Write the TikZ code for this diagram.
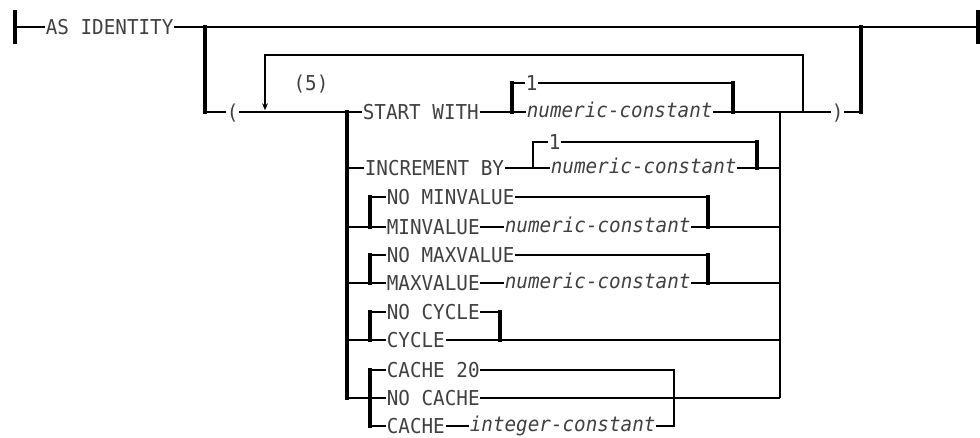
\documentclass[tikz,border=0pt]{standalone}
\usepackage{fontspec}
\setmonofont[FakeStretch=0.94]{DejaVu Sans Mono}
\usepackage{tikz}
\usetikzlibrary{arrows.meta}
\tikzset{kw/.style={font=\ttfamily\fontsize{17.5}{19}\selectfont, text=black!75, anchor=west, inner xsep=0.5pt, inner ysep=0pt, text height=12.8pt, text depth=0pt}}
\tikzset{var/.style={kw, font=\ttfamily\itshape\fontsize{17.5}{19}\selectfont, text height=9.6pt}}
\tikzset{rail/.style={line width=1.2pt}}
\tikzset{fork/.style={line width=2.6pt, line cap=rect}}

\begin{document}
\begin{tikzpicture}[x=0.03cm, y=-0.03cm]
\useasboundingbox (0,0) rectangle (980,437);

\coordinate (s) at (15,27);
\coordinate (e) at (978,27);
\coordinate (up) at (205,27);
\coordinate (upb) at (205,112);
\coordinate (dn) at (861,27);
\coordinate (dnb) at (861,112);
\coordinate (loop) at (265,112);
\coordinate (back) at (803,112);
\coordinate (a1) at (347,112);
\coordinate (a2) at (347,398);
\coordinate (b1) at (780,112);
\coordinate (b2) at (780,398);

\node[kw] (asid) at (45,27) {AS IDENTITY};
\node[kw] (lpar) at (226,112) {(};
\node[kw, anchor=center] (rep) at (311,83) {(5)};
\node[kw] (rpar) at (831,112) {)};

\node[kw] (sw) at (362,112) {START WITH};
\node[kw] (one1) at (525,83) {1};
\node[var] (nc1) at (526,112) {numeric-constant};

\node[kw] (inc) at (364,168) {INCREMENT BY};
\node[kw] (one2) at (548,142) {1};
\node[var] (nc2) at (550,168) {numeric-constant};

\node[kw] (nomin) at (386,197) {NO MINVALUE};
\node[kw] (min) at (386,227) {MINVALUE};
\node[var] (nc3) at (504,227) {numeric-constant};

\node[kw] (nomax) at (386,255) {NO MAXVALUE};
\node[kw] (max) at (386,283) {MAXVALUE};
\node[var] (nc4) at (504,283) {numeric-constant};

\node[kw] (nocyc) at (386,312) {NO CYCLE};
\node[kw] (cyc) at (386,340) {CYCLE};

\node[kw] (c20) at (386,370) {CACHE 20};
\node[kw] (nocache) at (386,398) {NO CACHE};
\node[kw] (cache) at (386,426) {CACHE};
\node[var] (ic) at (469,426) {integer-constant};

% main line
\draw[rail] (s) -- (asid.west);
\draw[rail] (asid.east) -- (e);
\draw[fork] (s) ++(0,-15) -- ++(0,30);
\draw[fork] (e) ++(0,-15) -- ++(0,30);
\draw[fork] (up) -- (upb);
\draw[rail] (upb) -- (lpar.west);
\draw[rail] (lpar.east) -- (sw.west);
\draw[rail, -{Stealth[length=6pt,width=5pt]}, shorten >=1.5pt] (back) -- ++(0,-57) -| (loop);
\draw[fork] (a1) -- (a2);
\draw[rail] (b1) -- (b2);
\draw[rail] (rpar.east) -- (dnb);
\draw[fork] (dnb) -- (dn);

% START WITH
\coordinate (f1) at (512,112);
\coordinate (g1) at (733,112);
\draw[rail] (sw.east) -- (nc1.west);
\draw[fork] (f1) -- (f1 |- one1.west);
\draw[rail] (f1 |- one1.west) -- (one1.west);
\draw[rail] (one1.east) -| (g1);
\draw[fork] (g1) -- (g1 |- one1.east);
\draw[rail] (nc1.east) -- (rpar.west);

% INCREMENT BY
\coordinate (f2) at (533,168);
\coordinate (g2) at (757,168);
\draw[rail] (a1 |- inc.west) -- (inc.west);
\draw[rail] (inc.east) -- (nc2.west);
\draw[rail] (f2) |- (one2.west);
\draw[rail] (one2.east) -| (g2);
\draw[fork] (g2) -- (g2 |- one2.east);
\draw[rail] (nc2.east) -- (b1 |- nc2.east);

% MINVALUE
\coordinate (f3) at (370,227);
\coordinate (g3) at (708,227);
\draw[rail] (a1 |- f3) -- (min.west);
\draw[fork] (f3) -- (f3 |- nomin.west);
\draw[rail] (f3 |- nomin.west) -- (nomin.west);
\draw[rail] (nomin.east) -| (g3);
\draw[fork] (g3) -- (g3 |- nomin.east);
\draw[rail] (min.east) -- (nc3.west);
\draw[rail] (nc3.east) -- (b1 |- nc3.east);

% MAXVALUE
\coordinate (f4) at (370,283);
\coordinate (g4) at (708,283);
\draw[rail] (a1 |- f4) -- (max.west);
\draw[fork] (f4) -- (f4 |- nomax.west);
\draw[rail] (f4 |- nomax.west) -- (nomax.west);
\draw[rail] (nomax.east) -| (g4);
\draw[fork] (g4) -- (g4 |- nomax.east);
\draw[rail] (max.east) -- (nc4.west);
\draw[rail] (nc4.east) -- (b1 |- nc4.east);

% CYCLE
\coordinate (f5) at (370,340);
\coordinate (g5) at (500,340);
\draw[rail] (a1 |- f5) -- (cyc.west);
\draw[fork] (f5) -- (f5 |- nocyc.west);
\draw[rail] (f5 |- nocyc.west) -- (nocyc.west);
\draw[rail] (nocyc.east) -| (g5);
\draw[fork] (g5) -- (g5 |- nocyc.east);
\draw[rail] (cyc.east) -- (b1 |- cyc.east);

% CACHE
\coordinate (f6) at (370,398);
\coordinate (g6) at (674,398);
\draw[rail] (a2) -- (nocache.west);
\draw[fork] (f6 |- c20.west) -- (f6 |- cache.west);
\draw[rail] (f6 |- c20.west) -- (c20.west);
\draw[rail] (f6 |- cache.west) -- (cache.west);
\draw[rail] (cache.east) -- (ic.west);
\draw[rail] (c20.east) -| (g6 |- ic.east) -- (ic.east);
\draw[rail] (nocache.east) -- (b2);
\end{tikzpicture}
\end{document}
